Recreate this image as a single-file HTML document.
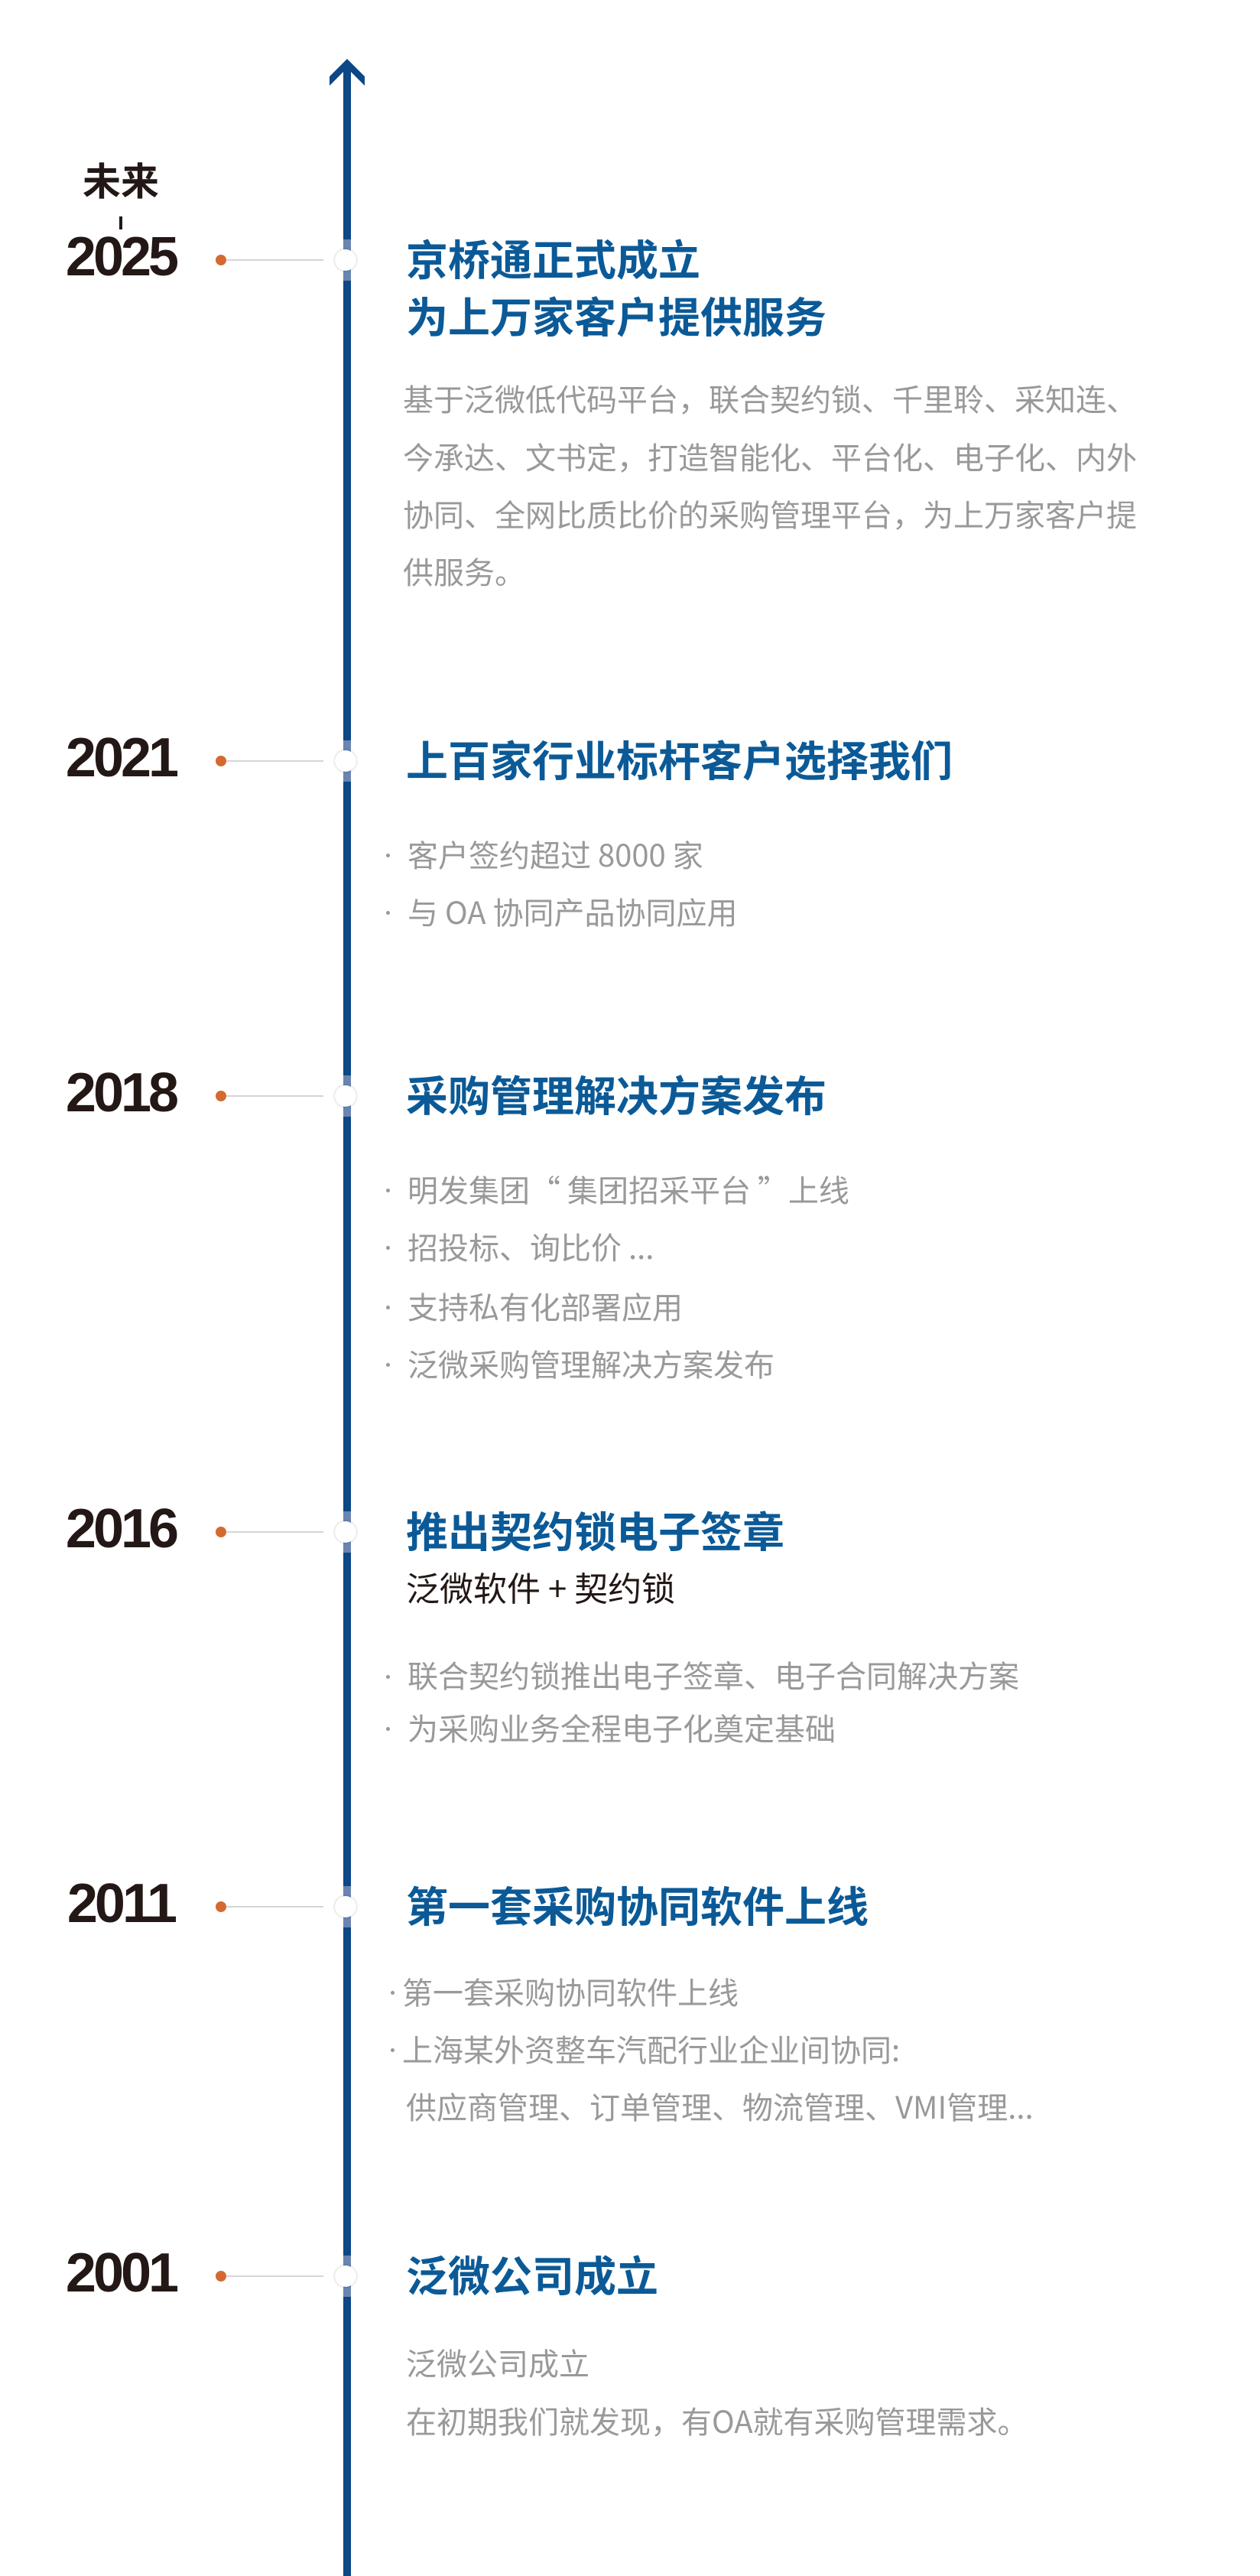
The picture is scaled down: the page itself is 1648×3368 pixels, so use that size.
<!DOCTYPE html>
<html><head><meta charset="utf-8">
<style>
html,body{margin:0;padding:0;background:#fff;}
body{width:1648px;height:3368px;position:relative;overflow:hidden;font-family:"Liberation Sans","Noto Sans CJK SC",sans-serif;}
.t{position:absolute;white-space:nowrap;line-height:80px;height:80px;margin-top:-4px;}
.yr{font-family:"Liberation Sans",sans-serif;font-weight:bold;font-size:72px;color:#231815;letter-spacing:-4px;width:316px;left:0;text-align:center;}
.ti{left:531px;font-family:"Noto Sans CJK SC",sans-serif;font-weight:bold;font-size:55px;color:#0b5a97;}
.g{font-family:"Noto Sans CJK SC",sans-serif;font-size:40px;color:#999;}
.b{position:absolute;width:5px;height:5px;border-radius:50%;background:#999;}
.dot{position:absolute;width:14px;height:14px;border-radius:50%;background:#d46a32;left:282px;}
.cn{position:absolute;height:2px;background:#d5d5d5;left:296px;width:127px;}
.seg{position:absolute;left:449px;width:10px;height:54px;background:#6985b0;}
.cir{position:absolute;left:438px;width:28px;height:28px;border-radius:50%;background:#fff;box-shadow:0 0 3px rgba(0,0,0,0.25);}
</style></head><body>
<svg width="1648" height="3368" style="position:absolute;left:0;top:0">
<rect x="449" y="88" width="10" height="3280" fill="#0c4787"/>
<polygon points="454,77 477,100 477,112 454,89 431,112 431,100" fill="#0c4787"/>
</svg>

<div class="t" style="left:0;width:316px;text-align:center;top:198px;font-family:'Noto Sans CJK SC',sans-serif;font-weight:bold;font-size:50px;color:#231815;">未来</div>
<div style="position:absolute;left:156px;top:283px;width:4px;height:17px;background:#231815"></div>

<div class="yr t" style="top:300px">2025</div>
<div class="dot" style="top:333px"></div><div class="cn" style="top:339px"></div>
<div class="seg" style="top:313px"></div><div class="cir" style="top:326px"></div>
<div class="t ti" style="top:300px">京桥通正式成立</div>
<div class="t ti" style="top:375px">为上万家客户提供服务</div>
<div class="t g" style="left:527px;top:484px">基于泛微低代码平台，联合契约锁、千里聆、采知连、</div>
<div class="t g" style="left:527px;top:560px">今承达、文书定，打造智能化、平台化、电子化、内外</div>
<div class="t g" style="left:527px;top:635px">协同、全网比质比价的采购管理平台，为上万家客户提</div>
<div class="t g" style="left:527px;top:710px">供服务。</div>

<div class="yr t" style="top:955px">2021</div>
<div class="dot" style="top:988px"></div><div class="cn" style="top:994px"></div>
<div class="seg" style="top:968px"></div><div class="cir" style="top:981px"></div>
<div class="t ti" style="top:955px">上百家行业标杆客户选择我们</div>
<div class="b" style="left:505px;top:1116px"></div><div class="t g" style="left:533px;top:1080px">客户签约超过 8000 家</div>
<div class="b" style="left:505px;top:1191px"></div><div class="t g" style="left:533px;top:1155px">与 OA 协同产品协同应用</div>

<div class="yr t" style="top:1393px">2018</div>
<div class="dot" style="top:1426px"></div><div class="cn" style="top:1432px"></div>
<div class="seg" style="top:1406px"></div><div class="cir" style="top:1419px"></div>
<div class="t ti" style="top:1393px">采购管理解决方案发布</div>
<div class="b" style="left:505px;top:1554px"></div><div class="t g" style="left:533px;top:1518px">明发集团“ 集团招采平台 ”上线</div>
<div class="b" style="left:505px;top:1629px"></div><div class="t g" style="left:533px;top:1593px">招投标、询比价 ...</div>
<div class="b" style="left:505px;top:1707px"></div><div class="t g" style="left:533px;top:1671px">支持私有化部署应用</div>
<div class="b" style="left:505px;top:1782px"></div><div class="t g" style="left:533px;top:1746px">泛微采购管理解决方案发布</div>

<div class="yr t" style="top:1963px">2016</div>
<div class="dot" style="top:1996px"></div><div class="cn" style="top:2002px"></div>
<div class="seg" style="top:1976px"></div><div class="cir" style="top:1989px"></div>
<div class="t ti" style="top:1963px">推出契约锁电子签章</div>
<div class="t" style="left:531px;top:2038px;font-family:'Noto Sans CJK SC',sans-serif;font-size:44px;color:#231815">泛微软件 + 契约锁</div>
<div class="b" style="left:505px;top:2190px"></div><div class="t g" style="left:533px;top:2153px">联合契约锁推出电子签章、电子合同解决方案</div>
<div class="b" style="left:505px;top:2258px"></div><div class="t g" style="left:533px;top:2222px">为采购业务全程电子化奠定基础</div>

<div class="yr t" style="top:2453px">2011</div>
<div class="dot" style="top:2486px"></div><div class="cn" style="top:2492px"></div>
<div class="seg" style="top:2466px"></div><div class="cir" style="top:2479px"></div>
<div class="t ti" style="top:2453px">第一套采购协同软件上线</div>
<div class="b" style="left:511px;top:2603px"></div><div class="t g" style="left:526px;top:2567px">第一套采购协同软件上线</div>
<div class="b" style="left:511px;top:2678px"></div><div class="t g" style="left:526px;top:2642px">上海某外资整车汽配行业企业间协同:</div>
<div class="t g" style="left:531px;top:2717px">供应商管理、订单管理、物流管理、VMI管理...</div>

<div class="yr t" style="top:2936px">2001</div>
<div class="dot" style="top:2969px"></div><div class="cn" style="top:2975px"></div>
<div class="seg" style="top:2949px"></div><div class="cir" style="top:2962px"></div>
<div class="t ti" style="top:2936px">泛微公司成立</div>
<div class="t g" style="left:531px;top:3052px">泛微公司成立</div>
<div class="t g" style="left:531px;top:3128px">在初期我们就发现，有OA就有采购管理需求。</div>
</body></html>
